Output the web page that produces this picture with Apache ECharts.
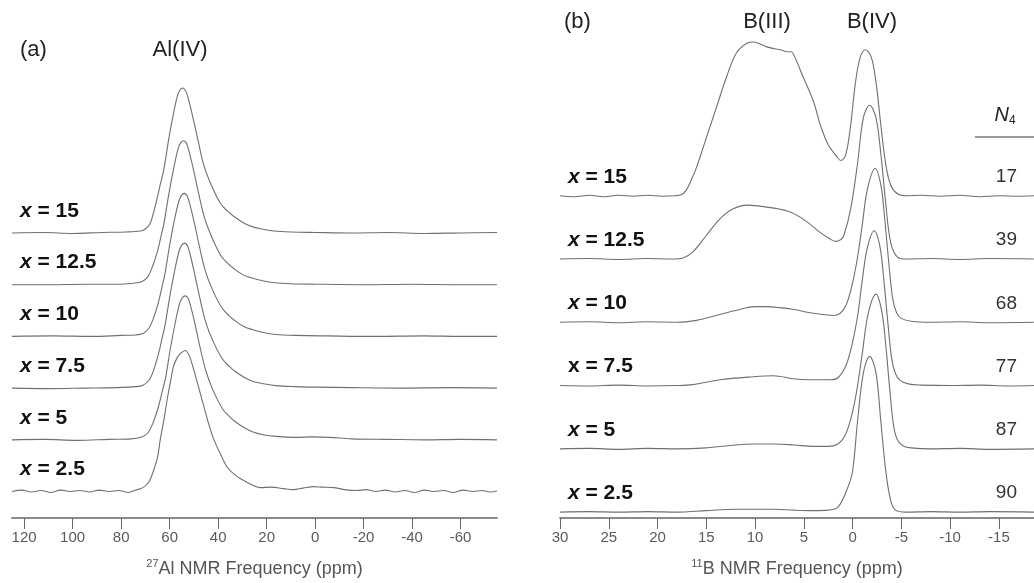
<!DOCTYPE html>
<html>
<head>
<meta charset="utf-8">
<script src="https://cdn.jsdelivr.net/npm/echarts@6.0.0/dist/echarts.min.js"></script>
<style>
	html, body { margin: 0; padding: 0; background: #fff; }
	#chart { width: 1034px; height: 583px; }
</style>
</head>
<body>
<div id="chart"></div>
<script>
// sample labels (x) and N4 values, top spectrum first
var samples = ['15', '12.5', '10', '7.5', '5', '2.5'];
var n4Values = ['17', '39', '68', '77', '87', '90'];
var alTicks = [120, 100, 80, 60, 40, 20, 0, -20, -40, -60];
var bTicks = [30, 25, 20, 15, 10, 5, 0, -5, -10, -15];

/******** 27Al spectra: [ppm, intensity] ********/
var al15 = [[125,0],[112,0.5],[100,-0.5],[88,0.5],[78,1],[72,2],[70,4],[68,10],[66.5,22],[65,37],[63.8,50],[62.6,62],[61.5,78],[60.5,94],[58.8,117],[56.8,140],[55.7,146],[54.7,148],[53.6,146],[52.6,140],[50.6,120],[48.5,97],[46,70],[43,50],[39,30],[36,22],[33.6,17],[30,11],[26.6,7],[22,4],[17,2],[10,1],[0,0.5],[-15,0],[-30,0.5],[-45,-0.5],[-60,0],[-75,0.5]];
var al12 = [[125,0],[110,0],[95,0.5],[82,0.5],[75,1.5],[71.5,3],[69,8],[67,19],[65,34],[63.5,50],[62.3,63],[60.3,93],[58.4,118],[56.5,139],[55.4,145],[54.3,147],[53.2,145],[52.3,139],[50.3,119],[48.2,95],[45.7,69],[42.7,49],[38.7,29],[35.7,21],[33.3,16],[29.7,10],[26.3,7],[21.7,4],[16.7,2],[10,1],[0,0.5],[-20,0],[-40,0.5],[-60,0],[-75,0]];
var al10 = [[125,0],[108,0.5],[92,0],[80,1],[74,1.5],[71,3],[68.6,8],[66.6,19],[64.6,35],[63.2,50],[62,63],[60,93],[58.1,118],[56.2,138],[55.1,144],[54,146],[52.9,144],[52,138],[50,118],[47.9,94],[45.4,68],[42.4,48],[38.4,29],[35.4,21],[33,16],[29.4,10],[26,7],[21.4,4],[16.4,2],[8,1],[-5,0.5],[-25,0],[-45,0.5],[-60,0],[-75,0]];
var al7 = [[125,0],[110,-0.5],[95,0],[82,0.5],[74,1.5],[71,3],[68.5,8],[66.5,19],[64.5,36],[63.1,51],[61.9,64],[59.9,94],[58,119],[56.1,140],[55,146],[53.9,148],[52.8,146],[51.9,140],[49.9,119],[47.8,95],[45.3,69],[42.3,49],[38.3,30],[35.3,22],[32.9,17],[29.3,11],[25.9,7],[21.3,4.5],[16.3,2.5],[8,1.5],[0,1],[-15,0.5],[-35,0],[-55,0.5],[-75,0]];
var al5 = [[125,0],[112,0.5],[98,-0.5],[85,0.5],[76,1],[71.5,3],[69,7],[66.9,17],[64.7,33],[63,50],[61.7,63],[59.7,93],[57.8,118],[55.9,139],[54.8,145],[53.6,147],[52.5,145],[51.6,139],[49.6,119],[47.5,95],[45,70],[42,50],[38,31],[35,23],[32.6,18],[29,12],[25.6,8],[21,5],[16,3.5],[8,2.5],[1,3],[-6,2.5],[-15,1],[-30,0.5],[-45,0],[-60,0.5],[-75,0]];
var al2 = [[125,0],[121,1.5],[117,-0.5],[113,1],[109,-1],[105,1.5],[101,0],[97,1],[93,-0.5],[89,1.5],[85,0],[81,1],[77,-1],[74,1.5],[71,4],[68.5,10],[66.7,21],[65,35],[63.8,54],[62.3,74],[61,94],[59.6,113],[58.4,128],[56.8,137],[55.5,141],[53.5,144],[51.8,138],[50,124],[48,106],[46,88],[44,70],[41.9,54],[39,38],[36,24],[33,17],[30.7,13],[27,8],[22.5,4],[18,4.5],[13,3],[9,2],[5,3.5],[0.6,5],[-3,4.5],[-7.7,4],[-12,2],[-17,1],[-21,2],[-25,0],[-29,1.5],[-33,-0.5],[-37,1],[-41,-1],[-45,1.5],[-49,0],[-53,1],[-57,-1],[-61,1.5],[-65,0],[-69,1],[-72,-0.5],[-75,0.5]];

/******** 11B spectra: [ppm, intensity] ********/
var b15 = [[30,0],[28.5,-1],[27,0.5],[25.5,-1],[24,0.5],[22.5,-0.5],[21,0.5],[19.5,-0.5],[18.2,0],[17.6,1],[17.1,5],[16.5,17],[16,29],[15,59],[13.9,92],[12.9,122],[11.9,146],[10.8,156],[10.2,157],[9.5,155],[8.8,152],[8,150],[7.4,149],[6.7,147],[6.3,147],[5.9,141],[5.1,122],[4,96],[3.3,72],[2.5,52],[1.7,41],[1.2,36],[0.7,42],[0.2,72],[-0.3,116],[-0.8,142],[-1.3,149],[-1.9,142],[-2.4,116],[-2.9,72],[-3.4,32],[-3.9,11],[-4.6,2],[-5.5,0],[-7,0.5],[-9,-0.5],[-11,0.5],[-13,-1],[-15,0],[-17,-0.5],[-18.6,0]];
var b12 = [[30,0],[27,0.5],[24,-0.5],[21,0.5],[18.5,0],[17.4,1],[16.4,7],[15,24],[13.6,41],[12.3,51],[10.8,55],[8.8,53],[6.7,49],[5.1,41],[3.3,27],[2.4,21],[1.75,18],[1.2,20],[0.9,24],[0.2,51],[-0.5,97],[-1.1,144],[-1.75,157],[-2.4,144],[-2.9,107],[-3.4,57],[-3.9,17],[-4.6,2],[-5.5,0],[-8,0.5],[-11,-0.5],[-14,0.5],[-18.6,0]];
var b10 = [[30,0],[27,0.5],[24,-0.5],[21,0.5],[18,0],[16,2],[14,7],[12,12],[10,16],[9,16],[7.5,15],[6,13],[4.5,10],[3,8],[2,7],[1.3,9],[0.7,17],[0.2,32],[-0.4,60],[-1,100],[-1.5,135],[-2.3,157],[-2.9,140],[-3.3,105],[-3.7,62],[-4.1,25],[-4.5,10],[-5,4],[-6,1],[-8,0],[-11,0.5],[-14,-0.5],[-18.6,0]];
var b7 = [[30,0],[27,-0.5],[24,0.5],[21,-0.5],[18,0],[16.4,1],[13.6,6],[10.2,9],[8.1,10],[6.1,7],[4.5,6],[3.3,6],[2.2,6],[1.5,8],[0.7,20],[0.1,40],[-0.5,70],[-1,108],[-1.5,140],[-2.2,158],[-2.8,142],[-3.2,108],[-3.6,66],[-4,28],[-4.4,12],[-4.9,5],[-5.8,1.5],[-7,0.5],[-10,0],[-13,0.5],[-16,-0.5],[-18.6,0]];
var b5 = [[30,0],[27,0.5],[24,-0.5],[21,0.5],[18,0],[15,1],[12,4],[10,5],[8,5],[6,4],[4,2.5],[2.5,2.5],[1.5,5],[0.8,13],[0.2,30],[-0.4,58],[-1,98],[-1.6,138],[-2.4,158],[-3,140],[-3.4,106],[-3.8,62],[-4.2,24],[-4.6,9],[-5.2,3],[-6,1],[-8,0],[-11,0.5],[-14,-0.5],[-18.6,0]];
var b2 = [[30,0],[27,0.5],[24,0],[21,0.5],[18,0],[15,1.5],[12,3],[10,3],[8,3],[6,2],[4,1.5],[2.5,2],[1.5,5],[0.5,25],[0,42],[-0.5,92],[-1.1,142],[-1.75,159],[-2.4,142],[-2.9,92],[-3.4,42],[-3.9,12],[-4.4,2],[-5.5,0],[-8,0.5],[-11,0],[-14,0.5],[-18.6,0]];

var alSpectra = [al15, al12, al10, al7, al5, al2];
var bSpectra = [b15, b12, b10, b7, b5, b2];

// vertical stacking of the traces
var alBase = 27, alStep = 52.8;
var bBase = 6, bStep = 64.6;

var chart = echarts.init(document.getElementById('chart'));
var lineColor = '#707070';
var font = 'Liberation Sans, Arial, sans-serif';

function shift(data, off) {
	return data.map(function (p) { return [p[0], off + p[1]]; });
}

var series = [];
alSpectra.forEach(function (d, i) {
	series.push({
		type: 'line', xAxisIndex: 0, yAxisIndex: 0,
		data: shift(d, alBase + (5 - i) * alStep),
		showSymbol: false, smooth: 0.35, clip: false,
		lineStyle: { color: lineColor, width: 1.1 }
	});
});
bSpectra.forEach(function (d, i) {
	series.push({
		type: 'line', xAxisIndex: 1, yAxisIndex: 1,
		data: shift(d, bBase + (5 - i) * bStep),
		showSymbol: false, smooth: 0.35, clip: false,
		lineStyle: { color: lineColor, width: 1.1 }
	});
});

function xAxisOpt(idx, min, max, ticks, name) {
	return {
		type: 'value', gridIndex: idx, inverse: true, min: min, max: max,
		axisLine: { lineStyle: { color: '#8a8a8a', width: 2 } },
		axisTick: { show: true, length: 11, customValues: ticks, lineStyle: { color: '#666', width: 1 } },
		axisLabel: { customValues: ticks, margin: 12, fontSize: 15, color: '#5a5a5a', fontFamily: font },
		splitLine: { show: false },
		name: name, nameLocation: 'middle', nameGap: 40,
		nameTextStyle: {
			color: '#555', fontFamily: font,
			rich: {
				sup: { fontSize: 11, lineHeight: 11, verticalAlign: 'top', color: '#555', fontFamily: font },
				t: { fontSize: 18, lineHeight: 22, color: '#555', fontFamily: font }
			}
		}
	};
}

var option = {
	animation: false,
	backgroundColor: '#fff',
	grid: [
		{ left: 12, top: 40, width: 485, height: 488 },
		{ left: 560, top: 40, width: 474, height: 488 }
	],
	xAxis: [
		xAxisOpt(0, -75, 125, alTicks, '{sup|27}{t|Al NMR Frequency (ppm)}'),
		xAxisOpt(1, -18.6, 30, bTicks, '{sup|11}{t|B NMR Frequency (ppm)}')
	],
	yAxis: [
		{ type: 'value', gridIndex: 0, min: 0, max: 488, show: false },
		{ type: 'value', gridIndex: 1, min: 0, max: 488, show: false }
	],
	series: series
};
chart.setOption(option);

/******** 文字标注 ********/
var graphics = [];
function txt(x, y, text, extra) {
	var st = { text: text, x: x, y: y, fill: '#222', fontFamily: font, fontSize: 22, align: 'left', verticalAlign: 'middle' };
	for (var k in extra) st[k] = extra[k];
	graphics.push({ type: 'text', silent: true, style: st });
}
txt(20, 50, '(a)');
txt(180, 50, 'Al(IV)', { align: 'center' });
txt(564, 22, '(b)');
txt(767, 22, 'B(III)', { align: 'center' });
txt(872, 22, 'B(IV)', { align: 'center' });
txt(1005, 115, '{n|N}{s|4}', {
	align: 'center',
	rich: {
		n: { fontStyle: 'italic', fontSize: 20, lineHeight: 24, fill: '#222', fontFamily: font },
		s: { fontSize: 12, lineHeight: 12, verticalAlign: 'bottom', fill: '#222', fontFamily: font }
	}
});
graphics.push({ type: 'line', silent: true, shape: { x1: 975, y1: 137, x2: 1034, y2: 137 }, style: { stroke: '#777', lineWidth: 1.5 } });

var labelRich = {
	i: { fontStyle: 'italic', fontWeight: 'bold', fontSize: 21, fill: '#111', fontFamily: font },
	r: { fontWeight: 'bold', fontSize: 21, fill: '#111', fontFamily: font }
};
samples.forEach(function (s, i) {
	var ya = chart.convertToPixel({ xAxisIndex: 0, yAxisIndex: 0 }, [125, alBase + (5 - i) * alStep])[1];
	var yb = chart.convertToPixel({ xAxisIndex: 1, yAxisIndex: 1 }, [30, bBase + (5 - i) * bStep])[1];
	txt(20, ya - 22, '{i|x}{r| = ' + s + '}', { rich: labelRich });
	var bx = (s === '7.5') ? '{r|x = ' + s + '}' : '{i|x}{r| = ' + s + '}';
	txt(568, yb - 19, bx, { rich: labelRich });
	txt(1017, yb - 19, n4Values[i], { align: 'right', fill: '#333', fontSize: 19 });
});

chart.setOption({ graphic: graphics });

window.onresize = function () {
	chart.resize();
};
</script>
</body>
</html>
